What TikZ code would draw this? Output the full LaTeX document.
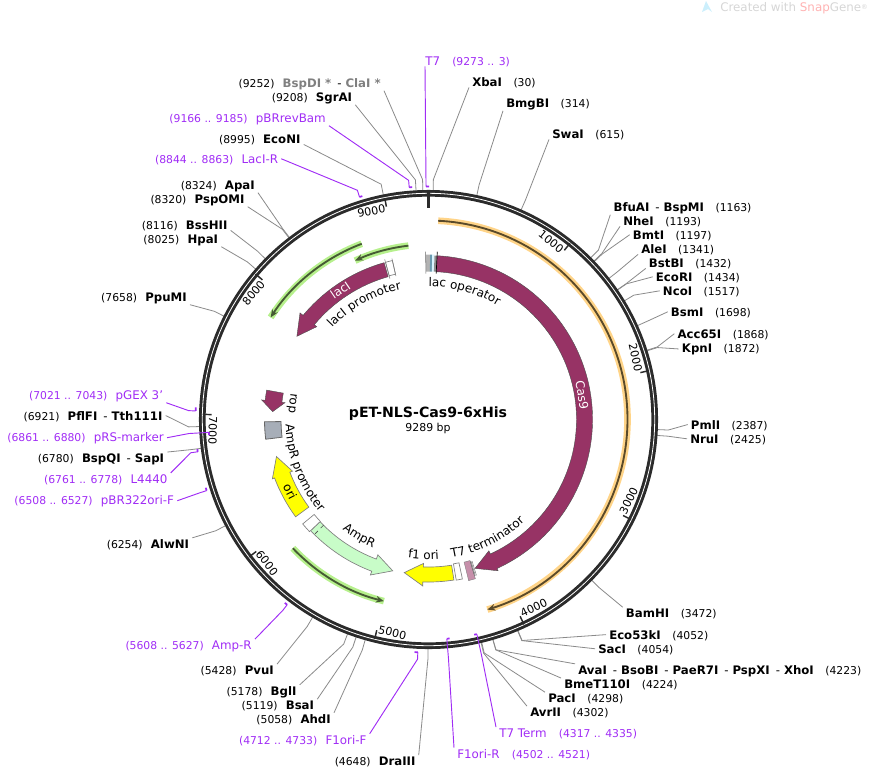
\documentclass[tikz,border=0pt]{standalone}
\usepackage{fontspec}
\setmainfont{DejaVu Sans}
\usepackage{xcolor}
\usetikzlibrary{arrows.meta,decorations.text,positioning}

\definecolor{oligo}{HTML}{A02CF5}
\definecolor{leadgray}{HTML}{8A8A8A}
\definecolor{ringblack}{HTML}{2B2B2B}
\definecolor{cds}{HTML}{973365}
\definecolor{oricol}{HTML}{FFFF00}
\definecolor{ampgreen}{HTML}{C8FCC8}
\definecolor{orangehalo}{HTML}{FFD488}
\definecolor{orangecore}{HTML}{5A4A2A}
\definecolor{greenhalo}{HTML}{B6F08C}
\definecolor{greencore}{HTML}{465A34}
\definecolor{misc}{HTML}{A7AEB8}

% degrees per base pair
\newcommand{\dg}{0.038755}
% hyphen between names
\newcommand{\dsh}{\hspace{4.5pt}{\mdseries -}\hspace{3pt}}

\tikzset{
  map/.style={shift={(428.5,419.5)},rotate=90},
  sitename/.style={font=\fontsize{8.8}{10}\selectfont\bfseries,inner xsep=2.25pt,inner ysep=0.75pt},
  sitepos/.style={font=\fontsize{8.1}{10}\selectfont,inner sep=0pt},
  oliname/.style={font=\fontsize{8.9}{10}\selectfont,text=oligo,inner xsep=2.25pt,inner ysep=0.75pt},
  olipos/.style={font=\fontsize{8.1}{10}\selectfont,text=oligo,inner sep=0pt},
  nameR/.style={anchor=base west,xshift=-2.25pt},
  nameL/.style={anchor=base east,xshift=2.25pt},
  leader/.style={draw=leadgray,line width=0.6pt},
  oliline/.style={draw=oligo,line width=0.7pt},
  olibar/.style={draw=oligo,line width=1.3pt},
  ringline/.style={draw=ringblack,line width=5pt},
  ringgap/.style={draw=white,line width=0.6pt},
  tickline/.style={draw=ringblack,line width=1.1pt},
  ticklbl/.style={font=\fontsize{8.3}{10}\selectfont,inner sep=1pt},
  cdsfeat/.style={fill=cds,draw=black!70,line width=0.3pt},
  orifeat/.style={fill=oricol,draw=black!50,line width=0.5pt},
  ampfeat/.style={fill=ampgreen,draw=black!50,line width=0.5pt},
  promfeat/.style={fill=white,draw=black!50,line width=0.5pt},
  featlbl/.style={font=\fontsize{9}{10}\selectfont,inner sep=0pt},
}

% enzyme label, name first, then the place
\newcommand{\enzR}[4]{%
  \node[sitename,nameR] (#1) at (#2) {#3};
  \node[sitepos,base right=6pt of #1] (#1pos) {(#4)};}
% enzyme label, place first
\newcommand{\enzL}[4]{%
  \node[sitename,nameL] (#1) at (#2) {#3};
  \node[sitepos,base left=3.5pt of #1] (#1pos) {(#4)};}
% primer labels
\newcommand{\oliR}[4]{%
  \node[oliname,nameR] (#1) at (#2) {#3};
  \node[olipos,base right=6.5pt of #1] (#1pos) {(#4)};}
\newcommand{\oliL}[4]{%
  \node[oliname,nameL] (#1) at (#2) {#3};
  \node[olipos,base left=3.5pt of #1] (#1pos) {(#4)};}
% label -- knee -- ring
\newcommand{\cutline}[2]{%
  \coordinate (k#2) at ([map]{#2*\dg}:240);
  \coordinate (b#2) at ([map]{#2*\dg}:227);
  \draw[leader] (#1) -- (k#2) -- (b#2);}
% label -- knee -- primer mark; from, to, radius of the mark
\newcommand{\oliline}[4]{%
  \coordinate (k#2) at ([map]{#2*\dg}:240);
  \coordinate (b#2) at ([map]{#2*\dg}:#4);
  \coordinate (e#2) at ([map]{#3*\dg}:#4);
  \draw[oliline] (#1) -- (k#2) -- (b#2);
  \draw[olibar] (b#2) -- (e#2);}
% feature arrow: tail, base of head, tip, inner, outer, inner barb, outer barb
\newcommand{\featarrow}[8]{%
  \draw[#1] (#2:#5) arc[start angle=#2,end angle=#3,radius=#5] -- (#3:#7)
    -- (#4:{(#5+#6)/2}) -- (#3:#8) -- (#3:#6)
    arc[start angle=#3,end angle=#2,radius=#6] -- cycle;}
\newcommand{\arcbox}[5]{%
  \draw[#1] (#2:#4) arc[start angle=#2,end angle=#3,radius=#4] -- (#3:#5)
    arc[start angle=#3,end angle=#2,radius=#5] -- cycle;}
% text on a circle
\newcommand{\arclabel}[4]{%
  \path[decorate,decoration={text along path,text={|\fontsize{9}{10}\selectfont|#4}}]
    (#1:#3) arc[start angle=#1,end angle=#2,radius=#3];}
% thin arc with a halo
\newcommand{\halo}[5]{%
  \draw[draw=#4,line width=5pt] (#1:#3) arc[start angle=#1,end angle=#2,radius=#3];
  \draw[draw=#5,line width=1.4pt,-{Stealth[length=6pt,width=5pt]}] (#1:#3) arc[start angle=#1,end angle=#2,radius=#3];}

\begin{document}
\begin{tikzpicture}[x=0.75pt,y=-0.75pt]
\useasboundingbox (0,0) rectangle (871,769);

% Watermark
\fill[cyan!20] (702,12)--(706,1)--(712,12)--(708,9)--cycle;
\node[anchor=west,inner sep=0pt,font=\fontsize{8.9}{10}\selectfont,text=black!16] (wmark) at (720,8)
  {Created with \textcolor{red!30}{Snap}Gene\raisebox{1pt}{\fontsize{5}{5}\selectfont ®}};

% Top labels
\oliR{tseven}{425,65}{T7}{9273 .. 3}
\enzR{xbai}{472,86}{XbaI}{30}
\enzR{bmgbi}{506,107}{BmgBI}{314}
\enzR{swai}{552,138}{SwaI}{615}
\enzL{bspdi}{381,87}{\textcolor{gray}{BspDI *}\dsh\textcolor{gray}{ClaI *}}{9252}
\enzL{sgrai}{352.3,101}{SgrAI}{9208}
\oliL{pbrrev}{326,122}{pBRrevBam}{9166 .. 9185}
\enzL{econi}{300.7,143}{EcoNI}{8995}
\oliL{lacir}{278.3,163}{LacI-R}{8844 .. 8863}
\enzL{apai}{255,189}{ApaI}{8324}
\enzL{pspomi}{244.7,203}{PspOMI}{8320}
\enzL{bsshii}{227.7,229}{BssHII}{8116}
\enzL{hpai}{218.3,243}{HpaI}{8025}
\enzL{ppumi}{187,301}{PpuMI}{7658}

% Right labels
\enzR{bfuai}{613.3,211}{BfuAI\dsh BspMI}{1163}
\enzR{nhei}{623,225}{NheI}{1193}
\enzR{bmti}{632.7,239}{BmtI}{1197}
\enzR{alei}{641,253}{AleI}{1341}
\enzR{bstbi}{648.7,267}{BstBI}{1432}
\enzR{ecori}{655.7,281}{EcoRI}{1434}
\enzR{ncoi}{662.7,295}{NcoI}{1517}
\enzR{bsmi}{670.7,316}{BsmI}{1698}
\enzR{acc}{677.3,338}{Acc65I}{1868}
\enzR{kpni}{681.7,352}{KpnI}{1872}
\enzR{pmli}{690.7,429}{PmlI}{2387}
\enzR{nrui}{690,443}{NruI}{2425}
\enzR{bamhi}{625.7,617}{BamHI}{3472}
\enzR{ecofs}{609,639}{Eco53kI}{4052}
\enzR{saci}{598,653}{SacI}{4054}
\enzR{avai}{578,674}{AvaI\dsh BsoBI\dsh PaeR7I\dsh PspXI\dsh XhoI}{4223}
\enzR{bmet}{564,688}{BmeT110I}{4224}
\enzR{paci}{548,702}{PacI}{4298}
\enzR{avrii}{530,716}{AvrII}{4302}
\oliR{tterm}{499,737}{T7 Term}{4317 .. 4335}
\oliR{fonir}{457,758}{F1ori-R}{4502 .. 4521}

% Bottom and left labels
\enzL{draiii}{415.7,765}{DraIII}{4648}
\oliL{fonif}{366.7,744}{F1ori-F}{4712 .. 4733}
\enzL{ahdi}{331,723}{AhdI}{5058}
\enzL{bsai}{314.3,709}{BsaI}{5119}
\enzL{bgli}{296.7,695}{BglI}{5178}
\enzL{pvui}{274,674}{PvuI}{5428}
\oliL{ampr}{252,649}{Amp-R}{5608 .. 5627}
\enzL{alwni}{189.3,548}{AlwNI}{6254}
\oliL{pbrori}{174.3,504}{pBR322ori-F}{6508 .. 6527}
\oliL{lfour}{167.7,483}{L4440}{6761 .. 6778}
\enzL{bspqi}{164.3,462}{BspQI\dsh SapI}{6780}
\oliL{prs}{164,441}{pRS-marker}{6861 .. 6880}
\enzL{pflfi}{162.7,420}{PflFI\dsh Tth111I}{6921}
\oliL{pgex}{163.3,399}{pGEX 3'}{7021 .. 7043}

% Leader lines
\cutline{xbai.south west}{30}
\cutline{bmgbi.south west}{314}
\cutline{swai.south west}{615}
\cutline{bfuai.south west}{1163}
\cutline{nhei.south west}{1193}
\cutline{bmti.west}{1197}
\cutline{alei.south west}{1341}
\cutline{bstbi.south west}{1432}
\cutline{ecori.west}{1434}
\cutline{ncoi.west}{1517}
\cutline{bsmi.west}{1698}
\cutline{acc.west}{1868}
\cutline{kpni.west}{1872}
\cutline{pmli.west}{2387}
\cutline{nrui.west}{2425}
\cutline{bamhi.north west}{3472}
\cutline{ecofs.west}{4052}
\cutline{saci.west}{4054}
\cutline{avai.north west}{4223}
\cutline{bmet.north west}{4224}
\cutline{paci.north west}{4298}
\cutline{avrii.north west}{4302}
\cutline{draiii.north east}{4648}
\cutline{ahdi.north east}{5058}
\cutline{bsai.north east}{5119}
\cutline{bgli.north east}{5178}
\cutline{pvui.north east}{5428}
\cutline{alwni.north east}{6254}
\cutline{bspqi.north east}{6780}
\cutline{pflfi.east}{6921}
\cutline{ppumi.south east}{7658}
\cutline{hpai.south east}{8025}
\cutline{bsshii.south east}{8116}
\cutline{pspomi.south east}{8320}
\cutline{apai.south east}{8324}
\cutline{econi.south east}{8995}
\cutline{sgrai.south east}{9208}
\cutline{bspdi.south east}{9252}

% Ring
\begin{scope}[map]
\draw[ringline] (0,0) circle[radius=226.2];
\draw[ringgap] (0,0) circle[radius=226.2];
\draw[draw=ringblack,line width=2.25pt] (0:229.5)--(0:211.5);
\foreach \t/\rot/\anc in {1000/-38.75/east,2000/-77.5/east,3000/63.7/west,4000/25/west,
    5000/-13.8/west,6000/-52.5/west,7000/-91.3/west,8000/50/east,9000/11.2/east}{
  \draw[tickline] ({\t*\dg}:226)--({\t*\dg}:217);
  \node[ticklbl,rotate=\rot,anchor=\anc] (tick\t) at ({\t*\dg}:215.5) {\t};
}

% Thin arcs
\halo{2.8}{162.8}{199}{orangehalo}{orangecore}
\halo{353.4}{335.2}{175}{greenhalo}{greencore}
\halo{339.2}{302.9}{188}{greenhalo}{greencore}
\halo{226.5}{193.8}{187}{greenhalo}{greencore}

% Features
\featarrow{cdsfeat}{2.9}{155.3}{162.65}{148}{164}{144.5}{166.5}
\featarrow{cdsfeat}{344.2}{309.7}{302.3}{148.4}{163}{145.3}{167}
\featarrow{cdsfeat}{280.3}{276.7}{272.9}{147.6}{164.5}{144.5}{168}
\featarrow{orifeat}{171}{182}{189}{147.5}{162.5}{144}{166.5}
\featarrow{orifeat}{233.8}{249.2}{256.3}{148.3}{164.7}{145.5}{167}
\featarrow{ampfeat}{226.7}{200.5}{193.3}{149}{162}{144.5}{166}
\draw[black!70,dashed,line width=0.5pt] (224.8:149)--(224.8:162);
\arcbox{promfeat}{226.7}{230.3}{148.6}{163.5}
\arcbox{promfeat}{344.7}{347.2}{149}{163}
\draw[black!50,line width=0.4pt] (344.7:146)--(344.7:166) (347.2:147)--(347.2:165);
\arcbox{promfeat}{168}{170.2}{146.5}{163}
\arcbox{fill=misc,draw=black!60,line width=0.6pt}{263.1}{269.2}{147.5}{164}
% lac operator
\arcbox{fill=black!30,draw=none}{-0.9}{0.55}{148}{165}
\arcbox{fill=cyan!55!black!75,draw=none}{0.55}{1.3}{148}{165}
\arcbox{fill=cyan!15,draw=none}{1.3}{2.1}{148}{165}
\arcbox{fill=black!45,draw=none}{2.1}{3}{148}{164}
\draw[black!60,line width=0.4pt] (-1:146)--(-1:168);
\draw[black,line width=0.5pt] (3:146)--(3:168);
% T7 terminator
\arcbox{fill=cds!55,draw=black!50,line width=0.3pt}{163.6}{166}{147}{166}
\foreach \a in {162.9,163.3,163.6}{
  \draw[black!60,line width=0.3pt] (\a:148)--(\a:163);
}

% Text on the features
\node[font=\fontsize{9}{10}\selectfont,text=white,rotate=-81,inner sep=0pt] (caslbl) at (81:155.5) {Cas9};
\node[font=\fontsize{9}{10}\selectfont,text=white,rotate=34.3,inner sep=0pt] (lacilbl) at (325.7:156.5) {lacI};
\node[featlbl,rotate=-62.5] (orilbl) at (242.5:156) {ori};
\node[featlbl,rotate=-96.8] (roplbl) at (276.8:137.8) {rop};
\arclabel{0}{34}{133}{lac operator}
\arclabel{313.5}{350}{133}{lacI promoter}
\arclabel{268}{222}{143}{AmpR promoter}
\arclabel{218}{198}{140}{AmpR}
\arclabel{188.5}{172}{140}{f1 ori}
\arclabel{170.5}{130}{140}{T7 terminator}
\end{scope}

% Primers
\oliline{[xshift=2.25pt]tseven.south west}{9273}{9292}{233}
\oliline{pbrrev.south east}{9166}{9185}{233}
\oliline{lacir.east}{8844}{8863}{233}
\oliline{tterm.north west}{4317}{4335}{220}
\oliline{fonir.north west}{4521}{4502}{220}
\oliline{fonif.north east}{4712}{4733}{233}
\oliline{ampr.north east}{5608}{5627}{233}
\oliline{pbrori.east}{6508}{6527}{233}
\oliline{lfour.north east}{6761}{6778}{233}
\oliline{prs.east}{6880}{6861}{220}
\oliline{pgex.south east}{7021}{7043}{233}

% Title
\node[font=\fontsize{10.6}{12}\selectfont\bfseries,inner sep=0pt] (title) at (428,414) {pET-NLS-Cas9-6xHis};
\node[font=\fontsize{8.2}{10}\selectfont,inner sep=0pt] (size) at (428,428) {9289 bp};
\end{tikzpicture}
\end{document}
